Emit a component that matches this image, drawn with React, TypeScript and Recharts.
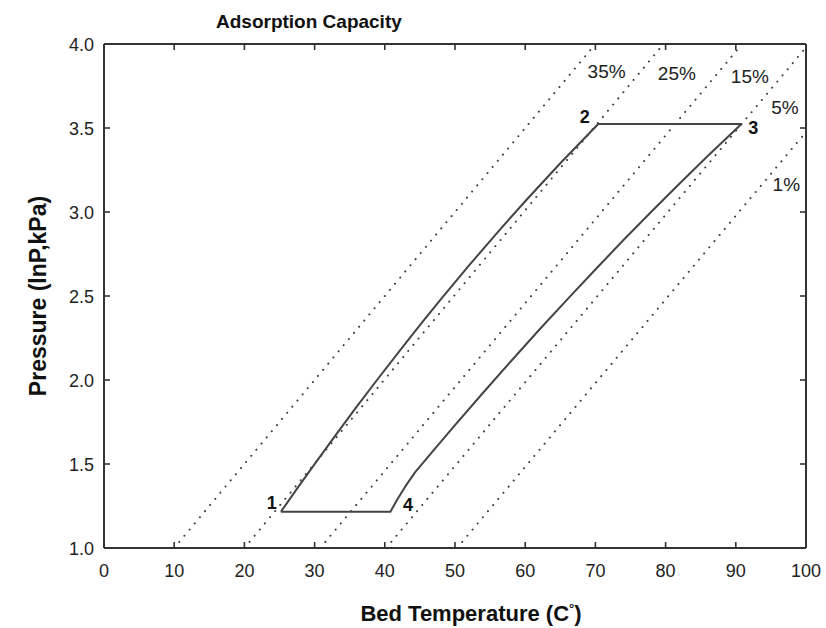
import React from 'react';
import { ComposedChart, Line, XAxis, YAxis, Scatter } from 'recharts';

// Axis ticks
const tempTicks = [0, 10, 20, 30, 40, 50, 60, 70, 80, 90, 100];
const pressureTicks = [1.0, 1.5, 2.0, 2.5, 3.0, 3.5, 4.0];

// Isosteres: bed temperature (°C) vs ln P at constant adsorbed amount
const iso35 = [{ x: 10.0, y: 1.0 }, { x: 70.0, y: 4.0 }];
const iso25 = [{ x: 20.0, y: 1.0 }, { x: 79.7, y: 4.0 }];
const iso15 = [{ x: 30.8, y: 1.0 }, { x: 90.3, y: 3.97 }];
const iso5 = [{ x: 40.2, y: 1.0 }, { x: 100.0, y: 3.98 }];
const iso1 = [{ x: 50.3, y: 1.0 }, { x: 100.0, y: 3.476 }];

const isoLabels = [
  { x: 71.6, y: 3.835, text: '35%' },
  { x: 81.6, y: 3.825, text: '25%' },
  { x: 92.0, y: 3.805, text: '15%' },
  { x: 97.0, y: 3.62, text: '5%' },
  { x: 97.2, y: 3.161, text: '1%' },
];

// Cycle 1 → 2 (isosteric heating) → 3 (desorption) → 4 (isosteric cooling) → 1 (adsorption)
const cycle = [
  { x: 25.2, y: 1.216 },
  { x: 27.5, y: 1.353 },
  { x: 30.0, y: 1.499 },
  { x: 33.0, y: 1.672 },
  { x: 36.0, y: 1.841 },
  { x: 39.0, y: 2.006 },
  { x: 42.0, y: 2.168 },
  { x: 45.0, y: 2.326 },
  { x: 48.0, y: 2.481 },
  { x: 52.0, y: 2.682 },
  { x: 56.0, y: 2.876 },
  { x: 60.0, y: 3.064 },
  { x: 65.0, y: 3.29 },
  { x: 70.4, y: 3.524 },
  { x: 90.8, y: 3.524 },
  { x: 86.0, y: 3.333 },
  { x: 82.0, y: 3.17 },
  { x: 78.0, y: 3.003 },
  { x: 74.0, y: 2.833 },
  { x: 70.0, y: 2.658 },
  { x: 66.0, y: 2.48 },
  { x: 62.0, y: 2.299 },
  { x: 58.0, y: 2.113 },
  { x: 54.0, y: 1.924 },
  { x: 50.0, y: 1.731 },
  { x: 47.0, y: 1.584 },
  { x: 44.3, y: 1.45 },
  { x: 42.9, y: 1.365 },
  { x: 41.8, y: 1.29 },
  { x: 40.8, y: 1.216 },
  { x: 25.2, y: 1.216 },
];

const stateLabels = [
  { x: 23.9, y: 1.266, text: '1' },
  { x: 68.5, y: 3.567, text: '2' },
  { x: 92.5, y: 3.498, text: '3' },
  { x: 43.3, y: 1.256, text: '4' },
];

const FONT = '"Liberation Sans", Arial, sans-serif';
const AXIS = '#333';
const TICK_LEN = 6;

const BottomTick = (p: any) => (
  <g>
    <line x1={p.x} y1={p.y} x2={p.x} y2={p.y - TICK_LEN} stroke={AXIS} strokeWidth={1.6} />
    <text x={p.x} y={p.y + 29} textAnchor="middle" fontFamily={FONT} fontSize={18} fill="#222">
      {p.payload.value}
    </text>
  </g>
);

const TopTick = (p: any) => (
  <line x1={p.x} y1={p.y} x2={p.x} y2={p.y + TICK_LEN} stroke={AXIS} strokeWidth={1.6} />
);

const LeftTick = (p: any) => (
  <g>
    <line x1={p.x} y1={p.y} x2={p.x + TICK_LEN} y2={p.y} stroke={AXIS} strokeWidth={1.6} />
    <text x={p.x - 10} y={p.y + 6.5} textAnchor="end" fontFamily={FONT} fontSize={18} fill="#222">
      {Number(p.payload.value).toFixed(1)}
    </text>
  </g>
);

const RightTick = (p: any) => (
  <line x1={p.x} y1={p.y} x2={p.x - TICK_LEN} y2={p.y} stroke={AXIS} strokeWidth={1.6} />
);

const XTitle = (p: any) => {
  const vb = p.viewBox || { x: 0, y: 0, width: 0, height: 0 };
  return (
    <text
      x={vb.x + vb.width / 2 + 16}
      y={vb.y + 73}
      textAnchor="middle"
      fontFamily={FONT}
      fontSize={22}
      fontWeight="bold"
      fill="#111"
    >
      Bed Temperature (C
      <tspan fontSize={13} dy={-8}>°</tspan>
      <tspan dy={8}>)</tspan>
    </text>
  );
};

const YTitle = (p: any) => {
  const vb = p.viewBox || { x: 0, y: 0, width: 0, height: 0 };
  const cx = vb.x - 6;
  const cy = vb.y + vb.height / 2;
  return (
    <text
      x={cx}
      y={cy}
      transform={`rotate(-90 ${cx} ${cy})`}
      textAnchor="middle"
      dominantBaseline="central"
      fontFamily={FONT}
      fontSize={23}
      fontWeight="bold"
      fill="#111"
    >
      Pressure (lnP,kPa)
    </text>
  );
};

const IsoText = (p: any) => (
  <text
    x={p.cx}
    y={p.cy}
    textAnchor="middle"
    dominantBaseline="central"
    fontFamily={FONT}
    fontSize={19}
    fill="#222"
  >
    {p.payload.text}
  </text>
);

const StateText = (p: any) => (
  <text
    x={p.cx}
    y={p.cy}
    textAnchor="middle"
    dominantBaseline="central"
    fontFamily={FONT}
    fontSize={18}
    fontWeight="bold"
    fill="#111"
  >
    {p.payload.text}
  </text>
);

const dotted = {
  stroke: '#3a3a3a',
  strokeWidth: 2,
  strokeDasharray: '0.01 8',
  strokeLinecap: 'round' as const,
  dot: false,
  activeDot: false,
  isAnimationActive: false,
  xAxisId: 'b',
  yAxisId: 'l',
  dataKey: 'y',
  type: 'linear' as const,
};

export default function App() {
  return (
    <div style={{ position: 'absolute', left: 0, top: 0, width: 826, height: 628, background: '#fff' }}>
      <div
        style={{
          position: 'absolute',
          left: 216,
          top: 11,
          fontFamily: FONT,
          fontSize: 19,
          fontWeight: 'bold',
          color: '#111',
          whiteSpace: 'nowrap',
          lineHeight: '22px',
        }}
      >
        Adsorption Capacity
      </div>
      <ComposedChart width={826} height={628} margin={{ top: 43, right: 19, bottom: 40, left: 44 }}>
        <XAxis
          xAxisId="b"
          type="number"
          dataKey="x"
          domain={[0, 100]}
          ticks={tempTicks}
          interval={0}
          allowDataOverflow
          orientation="bottom"
          height={40}
          axisLine={{ stroke: AXIS, strokeWidth: 2 }}
          tickLine={false}
          tickSize={0}
          tickMargin={0}
          tick={<BottomTick />}
          label={<XTitle />}
        />
        <XAxis
          xAxisId="t"
          type="number"
          dataKey="x"
          domain={[0, 100]}
          ticks={tempTicks}
          interval={0}
          allowDataOverflow
          orientation="top"
          height={1}
          axisLine={{ stroke: AXIS, strokeWidth: 2 }}
          tickLine={false}
          tickSize={0}
          tickMargin={0}
          tick={<TopTick />}
        />
        <YAxis
          yAxisId="l"
          type="number"
          dataKey="y"
          domain={[1, 4]}
          ticks={pressureTicks}
          interval={0}
          allowDataOverflow
          orientation="left"
          width={60}
          axisLine={{ stroke: AXIS, strokeWidth: 2 }}
          tickLine={false}
          tickSize={0}
          tickMargin={0}
          tick={<LeftTick />}
          label={<YTitle />}
        />
        <YAxis
          yAxisId="r"
          type="number"
          dataKey="y"
          domain={[1, 4]}
          ticks={pressureTicks}
          interval={0}
          allowDataOverflow
          orientation="right"
          width={1}
          axisLine={{ stroke: AXIS, strokeWidth: 2 }}
          tickLine={false}
          tickSize={0}
          tickMargin={0}
          tick={<RightTick />}
        />

        <Line {...dotted} data={iso35} name="35%" />
        <Line {...dotted} data={iso25} name="25%" />
        <Line {...dotted} data={iso15} name="15%" />
        <Line {...dotted} data={iso5} name="5%" />
        <Line {...dotted} data={iso1} name="1%" />

        <Line
          data={cycle}
          xAxisId="b"
          yAxisId="l"
          dataKey="y"
          type="linear"
          stroke="#444"
          strokeWidth={2}
          strokeLinejoin="round"
          dot={false}
          activeDot={false}
          isAnimationActive={false}
        />
        {/* binds the mirrored frame axes */}
        <Line
          data={cycle}
          xAxisId="t"
          yAxisId="r"
          dataKey="y"
          stroke="none"
          dot={false}
          activeDot={false}
          isAnimationActive={false}
        />

        <Scatter data={isoLabels} xAxisId="b" yAxisId="l" dataKey="y" shape={<IsoText />} isAnimationActive={false} />
        <Scatter data={stateLabels} xAxisId="b" yAxisId="l" dataKey="y" shape={<StateText />} isAnimationActive={false} />
      </ComposedChart>
    </div>
  );
}
